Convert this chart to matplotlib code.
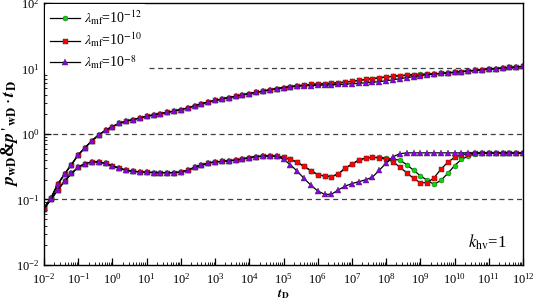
import matplotlib
matplotlib.use("Agg")
import matplotlib.pyplot as plt
from matplotlib.ticker import LogLocator, NullFormatter
import numpy as np

plt.rcParams['font.family'] = ['Liberation Serif', 'DejaVu Serif']
plt.rcParams['mathtext.fontset'] = 'stix'

# dimensionless time, markers every 0.2 decade from 1e-2 to 1e12
tD = 10 ** np.linspace(-2, 12, 71)

# p_wD (upper curves): shared early part up to tD=1e5, then per-series tails
p_common = [0.074, 0.105, 0.17, 0.245, 0.34, 0.48, 0.62, 0.79, 0.97, 1.14,
            1.30, 1.45, 1.57, 1.66, 1.76, 1.86, 1.96, 2.05, 2.14, 2.24,
            2.36, 2.50, 2.70, 2.90, 3.08, 3.25, 3.42, 3.60, 3.78, 3.96,
            4.14, 4.33, 4.52, 4.72, 4.92, 5.12]
p_red = [5.30, 5.45, 5.58, 5.70, 5.80, 5.88, 5.95, 6.05, 6.20, 6.38,
         6.58, 6.80, 7.00, 7.20, 7.40, 7.58, 7.72, 7.85, 7.95, 8.05,
         8.15, 8.26, 8.40, 8.57, 8.77, 8.97, 9.17, 9.37, 9.57, 9.77,
         9.97, 10.17, 10.37, 10.57, 10.77]
p_green = [5.30, 5.45, 5.58, 5.70, 5.80, 5.88, 5.95, 6.05, 6.20, 6.38,
           6.58, 6.80, 7.00, 7.22, 7.43, 7.63, 7.80, 7.95, 8.07, 8.16,
           8.24, 8.32, 8.43, 8.57, 8.77, 8.97, 9.17, 9.37, 9.57, 9.77,
           9.97, 10.17, 10.37, 10.57, 10.77]
p_purple = [5.25, 5.36, 5.44, 5.50, 5.55, 5.60, 5.64, 5.70, 5.77, 5.85,
            5.94, 6.04, 6.15, 6.30, 6.50, 6.72, 6.98, 7.25, 7.52, 7.80,
            8.05, 8.26, 8.42, 8.57, 8.77, 8.97, 9.17, 9.37, 9.57, 9.77,
            9.97, 10.17, 10.37, 10.57, 10.77]

# p'_wD * tD (lower curves): shared up to tD=10^4.8
d_common = [0.072, 0.10, 0.14, 0.19, 0.25, 0.31, 0.354, 0.375, 0.375, 0.355,
            0.326, 0.30, 0.28, 0.27, 0.264, 0.26, 0.258, 0.257, 0.257, 0.257,
            0.262, 0.28, 0.31, 0.335, 0.36, 0.375, 0.382, 0.39, 0.40, 0.415,
            0.435, 0.45, 0.46, 0.462, 0.458]
d_red = [0.44, 0.41, 0.37, 0.32, 0.275, 0.24, 0.228, 0.224, 0.245, 0.30,
         0.345, 0.40, 0.43, 0.44, 0.43, 0.41, 0.38, 0.31, 0.257, 0.21,
         0.18, 0.18, 0.215, 0.29, 0.37, 0.44, 0.48, 0.50, 0.51, 0.51,
         0.51, 0.51, 0.51, 0.51, 0.51, 0.51]
d_green = [0.44, 0.41, 0.37, 0.32, 0.275, 0.24, 0.228, 0.224, 0.245, 0.30,
           0.345, 0.40, 0.43, 0.44, 0.44, 0.43, 0.41, 0.40, 0.34, 0.28,
           0.23, 0.196, 0.17, 0.196, 0.25, 0.33, 0.41, 0.46, 0.50, 0.51,
           0.51, 0.51, 0.51, 0.51, 0.51, 0.51]
d_purple = [0.41, 0.34, 0.27, 0.21, 0.165, 0.135, 0.12, 0.12, 0.14, 0.16,
            0.175, 0.187, 0.20, 0.22, 0.28, 0.36, 0.45, 0.50, 0.515, 0.515,
            0.515, 0.515, 0.515, 0.515, 0.515, 0.515, 0.515, 0.515, 0.515, 0.515,
            0.515, 0.515, 0.515, 0.515, 0.515, 0.515]

labels = [r'$\lambda_{\rm mf}$=10$^{-12}$', r'$\lambda_{\rm mf}$=10$^{-10}$',
          r'$\lambda_{\rm mf}$=10$^{-8}$']
colors = ['#00dd00', '#ff0000', '#8a00e6']
markers = ['o', 's', '^']
upper = [p_common + p_green, p_common + p_red, p_common + p_purple]
lower = [d_common + d_green, d_common + d_red, d_common + d_purple]

fig = plt.figure(figsize=(5.33, 3.0), dpi=100)
ax = fig.add_axes([0.0826, 0.1167, 0.8987, 0.8733])

for yv in [0.1, 1, 10]:
    ax.axhline(yv, color='0.25', ls=(0, (4, 3)), lw=0.9, zorder=1)

handles = []
for up, lo, c, m, lab in zip(upper, lower, colors, markers, labels):
    kw = dict(color='k', lw=0.9, marker=m, ms=3.6, mfc=c, mec='0.2', mew=0.3)
    if m == '^':
        kw['ms'] = 4.2
    h, = ax.plot(tD, up, label=lab, **kw)
    ax.plot(tD, lo, **kw)
    handles.append(h)

ax.set_xscale('log')
ax.set_yscale('log')
ax.set_xlim(1e-2, 1e12)
ax.set_ylim(1e-2, 1e2)
ax.xaxis.set_major_locator(LogLocator(base=10, numticks=30))
ax.xaxis.set_minor_locator(LogLocator(base=10, subs=np.arange(2, 10), numticks=200))
ax.xaxis.set_minor_formatter(NullFormatter())
ax.yaxis.set_major_locator(LogLocator(base=10, numticks=30))
ax.yaxis.set_minor_locator(LogLocator(base=10, subs=np.arange(2, 10), numticks=200))
ax.yaxis.set_minor_formatter(NullFormatter())
ax.tick_params(which='both', direction='in', top=False, right=False, labelsize=9)
ax.tick_params(which='major', length=5, width=0.9)
ax.tick_params(which='minor', length=2.5, width=0.6)
ax.tick_params(axis='y', pad=3)
ax.tick_params(axis='x', pad=5)
for s in ax.spines.values():
    s.set_linewidth(1.0)

ax.set_xlabel(r'$\mathbfit{t}_{\mathbf{D}}$', fontsize=9.5)
ax.xaxis.set_label_coords(0.5, -0.084)
ax.set_ylabel(r"$\mathbfit{p}_{\mathbf{wD}}$&$\mathbfit{p}\,'_{\,\mathbf{wD}}\cdot\mathbfit{t}_{\mathbf{D}}$",
              fontsize=13, fontweight='bold')
ax.yaxis.set_label_coords(-0.05, 0.5)

leg = ax.legend(handles=handles, loc='upper left', fontsize=10, frameon=True,
                facecolor='white', edgecolor='none', framealpha=1,
                handlelength=2.2, labelspacing=0.3, borderaxespad=0.1,
                borderpad=0.3, handletextpad=0.3)
leg.set_zorder(5)

ax.text(0.885, 0.085, r'$k_{\rm hv}$=1', transform=ax.transAxes, fontsize=12,
        ha='left', va='center')

fig.savefig('out.png', dpi=100)
